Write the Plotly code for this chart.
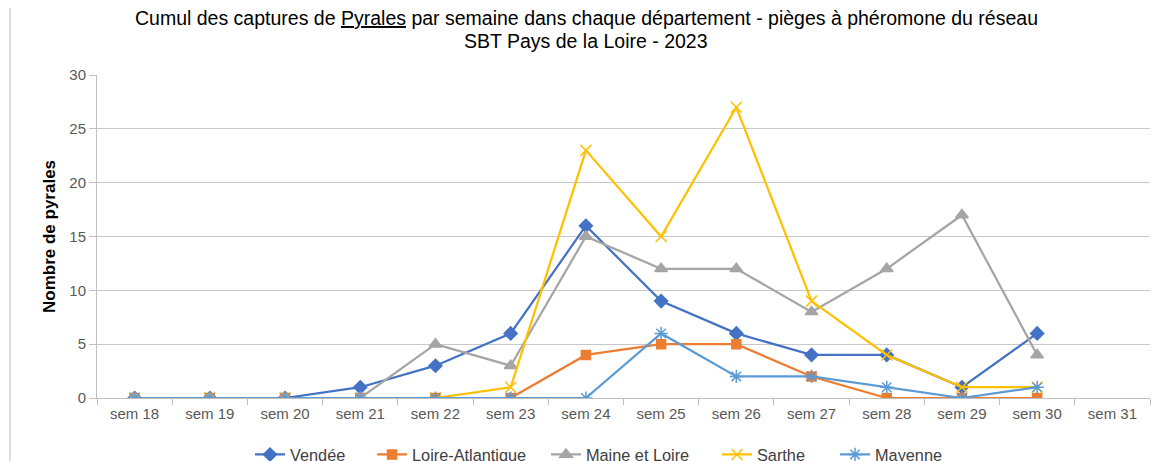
import plotly.graph_objects as go

weeks = ["sem 18", "sem 19", "sem 20", "sem 21", "sem 22", "sem 23", "sem 24",
         "sem 25", "sem 26", "sem 27", "sem 28", "sem 29", "sem 30", "sem 31"]

vendee = [0, 0, 0, 1, 3, 6, 16, 9, 6, 4, 4, 1, 6, None]
loire_atlantique = [0, 0, 0, 0, 0, 0, 4, 5, 5, 2, 0, 0, 0, None]
maine_et_loire = [0, 0, 0, 0, 5, 3, 15, 12, 12, 8, 12, 17, 4, None]
sarthe = [0, 0, 0, 0, 0, 1, 23, 15, 27, 9, 4, 1, 1, None]
mayenne = [0, 0, 0, 0, 0, 0, 0, 6, 2, 2, 1, 0, 1, None]

title_line1 = "Cumul des captures de <u>Pyrales</u> par semaine dans chaque département - pièges à phéromone du réseau"
title_line2 = "SBT Pays de la Loire - 2023"

series = [
    ("Vendée", vendee, "#4472C4", "diamond", 10),
    ("Loire-Atlantique", loire_atlantique, "#ED7D31", "square", 9),
    ("Maine et Loire", maine_et_loire, "#A5A5A5", "triangle-up", 11),
    ("Sarthe", sarthe, "#FFC000", "x-thin-open", 11),
    ("Mayenne", mayenne, "#5B9BD5", "asterisk-open", 11),
]
legend_x = [0.1453, 0.2612, 0.4264, 0.5888, 0.7009]

fig = go.Figure()
legend_layouts = {}
for i, (name, vals, color, symbol, size) in enumerate(series):
    lg = "legend" if i == 0 else f"legend{i + 1}"
    fig.add_trace(go.Scatter(
        x=weeks, y=vals, name=name, mode="lines+markers",
        line=dict(color=color, width=2.25),
        marker=dict(symbol=symbol, size=size, color=color,
                    line=dict(color=color, width=1.5)),
        connectgaps=False, legend=lg,
    ))
    legend_layouts[lg] = dict(
        orientation="h", x=legend_x[i], xanchor="left", y=-0.176, yanchor="middle",
        font=dict(family="Liberation Sans, Arial, sans-serif", size=16.3, color="#404040"),
        bgcolor="rgba(0,0,0,0)",
    )

title_font = dict(family="Liberation Sans, Arial, sans-serif", size=19.5, color="#000000")

fig.update_layout(
    width=1154, height=453,
    paper_bgcolor="white", plot_bgcolor="white",
    margin=dict(l=89, r=12, t=67, b=63, autoexpand=False),
    font=dict(family="Liberation Sans, Arial, sans-serif", size=12, color="#595959"),
    showlegend=True,
    xaxis=dict(
        type="category", categoryorder="array", categoryarray=weeks,
        range=[-0.5, 13.5],
        showgrid=False, showline=True, linecolor="#BFBFBF", linewidth=1,
        ticks="outside", tickson="boundaries", ticklen=6, tickcolor="#BFBFBF",
        tickfont=dict(size=15, color="#595959"),
        ticklabelstandoff=2,
        zeroline=False,
    ),
    yaxis=dict(
        range=[0, 30], dtick=5, tick0=0,
        showgrid=True, gridcolor="#C8C8C8", gridwidth=1.3,
        showline=True, linecolor="#BFBFBF", linewidth=1,
        ticks="outside", ticklen=7, tickcolor="#BFBFBF",
        tickfont=dict(size=15, color="#595959"),
        zeroline=False,
        title=dict(text="<b>Nombre de pyrales</b>", standoff=9,
                   font=dict(family="Liberation Sans, Arial, sans-serif", size=17, color="#000000")),
    ),
    annotations=[
        dict(text=title_line1, xref="paper", yref="paper", x=0.4644, y=1.1765,
             xanchor="center", yanchor="middle", showarrow=False, font=title_font),
        dict(text=title_line2, xref="paper", yref="paper", x=0.4644, y=1.105,
             xanchor="center", yanchor="middle", showarrow=False, font=title_font),
    ],
    shapes=[dict(type="line", xref="paper", yref="paper",
                 x0=-0.0826, x1=-0.0826, y0=-0.2, y1=1.24,
                 line=dict(color="#BFBFBF", width=1))],
    **legend_layouts,
)

fig.write_html("out.html")
